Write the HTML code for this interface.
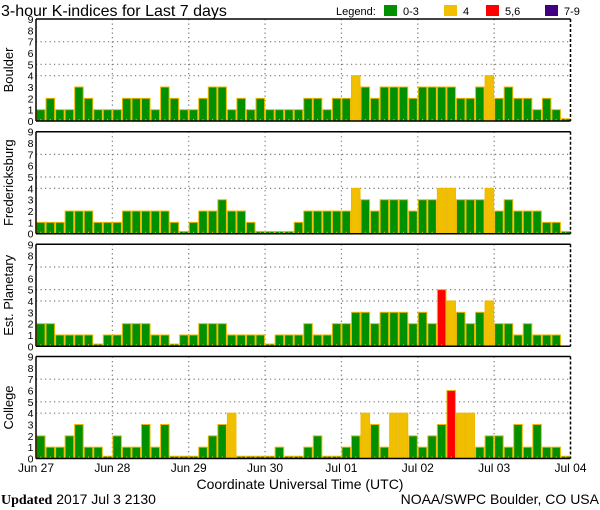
<!DOCTYPE html>
<html><head><meta charset="utf-8">
<style>
html,body{margin:0;padding:0;background:#fff;}
svg{display:block;font-family:"Liberation Sans",sans-serif;}
</style></head>
<body>
<svg id="chart" width="600" height="510" viewBox="0 0 600 510" xmlns="http://www.w3.org/2000/svg">
<text x="1" y="16" font-size="16" fill="#000">3-hour K-indices for Last 7 days</text>
<g font-size="11">
<text x="336" y="15">Legend:</text>
<rect x="384" y="5" width="13" height="11" fill="#009000"/>
<text x="403" y="15">0-3</text>
<rect x="444" y="5" width="13" height="11" fill="#f0c000"/>
<text x="463" y="15">4</text>
<rect x="486" y="5" width="13" height="11" fill="#ff0000"/>
<text x="505" y="15">5,6</text>
<rect x="545" y="5" width="13" height="11" fill="#400080"/>
<text x="564" y="15">7-9</text>
</g>
<g id="panels"></g>
<g id="xlabels" font-size="12"></g>
<text x="300" y="489" text-anchor="middle" font-size="14">Coordinate Universal Time (UTC)</text>
<text x="1" y="504" font-size="14"><tspan font-family="Liberation Serif, serif" font-weight="bold">Updated</tspan> 2017 Jul  3 2130</text>
<text x="599" y="504" text-anchor="end" font-size="14">NOAA/SWPC Boulder, CO USA</text>
</svg>
<script>
const stations = ["Boulder","Fredericksburg","Est. Planetary","College"];
const dayLabels = ["Jun 27","Jun 28","Jun 29","Jun 30","Jul 01","Jul 02","Jul 03","Jul 04"];
const boulder = [1,2,1,1,3,2,1,1, 1,2,2,2,1,3,2,1, 1,2,3,3,1,2,1,2, 1,1,1,1,2,2,1,2, 2,4,3,2,3,3,3,2, 3,3,3,3,2,2,3,4, 2,3,2,2,1,2,1,0];
const fredericksburg = [1,1,1,2,2,2,1,1, 1,2,2,2,2,2,1,0, 1,2,2,3,2,2,1,0, 0,0,0,1,2,2,2,2, 2,4,3,2,3,3,3,2, 3,3,4,4,3,3,3,4, 2,3,2,2,2,1,1,0];
const planetary = [2,2,1,1,1,1,0,1, 1,2,2,2,1,1,0,1, 1,2,2,2,1,1,1,1, 0,1,1,1,2,1,1,2, 2,3,3,2,3,3,3,2, 3,2,5,4,3,2,3,4, 2,2,1,2,1,1,1,null];
const college = [2,1,1,2,3,1,1,0, 2,1,1,3,1,3,0,0, 0,1,2,3,4,0,0,0, 0,1,0,0,1,2,0,0, 1,2,4,3,1,4,4,2, 1,2,3,6,4,4,1,2, 2,1,3,1,3,1,1,0];
const series = [boulder, fredericksburg, planetary, college];
const yTicks = [0,1,2,3,4,5,6,7,8,9];
const gridLevels = [4,5,7];

const NS="http://www.w3.org/2000/svg";
const L=36, R=570.5, H=102, N=56;
const tops=[19,131.7,244.3,356.5];
const bw=(R-L)/N;
const xs=i=>L+i*bw;
function mk(t,a,p){const e=document.createElementNS(NS,t);for(const k in a)e.setAttribute(k,a[k]);p.appendChild(e);return e;}
function color(v){return v>=7?"#400080":v>=5?"#ff0000":v>=4?"#f0c000":"#009000";}
const panels=document.getElementById("panels");
series.forEach((data,p)=>{
  const top=tops[p], bot=top+H;
  const ys=v=>bot-v*(H/9);
  const g=mk("g",{},panels);
  
  
  gridLevels.forEach(v=>{const l=mk("line",{x1:L,x2:R,y1:ys(v),y2:ys(v),stroke:"#777","stroke-dasharray":"1.2,3.3","stroke-width":1.2},g);
    
    });
  for(let d=1;d<7;d++){const l=mk("line",{x1:xs(d*8),x2:xs(d*8),y1:top,y2:bot,stroke:"#777","stroke-dasharray":"1.2,3.3","stroke-width":1.2},g);
    
    }
  data.forEach((v,i)=>{
    if(v===null)return;
    const hv=v===0?0.2:v;
    const r=mk("rect",{x:xs(i)+0.5,y:ys(hv),width:bw-1,height:bot-ys(hv),fill:color(v),stroke:"#f0b800","stroke-width":1},g);
    
    
    mk("line",{x1:xs(i)+bw/2,x2:xs(i)+bw/2,y1:bot-2,y2:bot,stroke:"#f0b800","stroke-width":1},g);
  });
  mk("line",{x1:L,x2:R,y1:top,y2:top,stroke:"#000","stroke-width":1.5},g);
  mk("line",{x1:L,x2:R,y1:bot,y2:bot,stroke:"#000","stroke-width":1.5},g);
  mk("line",{x1:L,x2:L,y1:top,y2:bot,stroke:"#000","stroke-width":1.5},g);
  mk("line",{x1:R,x2:R,y1:top,y2:bot,stroke:"#000","stroke-width":1.5,"stroke-dasharray":"3,2"},g);
  yTicks.forEach(v=>{const t=mk("text",{x:33.5,y:ys(v)+4,"text-anchor":"end","font-size":"10.5"},g);t.textContent=v;
    
    });
  const yl=mk("text",{x:0,y:0,"text-anchor":"middle","font-size":"13",transform:`translate(13,${top+H/2}) rotate(-90)`},g);
  yl.textContent=stations[p];
  
  
});
const xl=document.getElementById("xlabels");
dayLabels.forEach((s,d)=>{const t=mk("text",{x:xs(d*8),y:472,"text-anchor":"middle"},xl);t.textContent=s;
  
  });
</script>
</body></html>
